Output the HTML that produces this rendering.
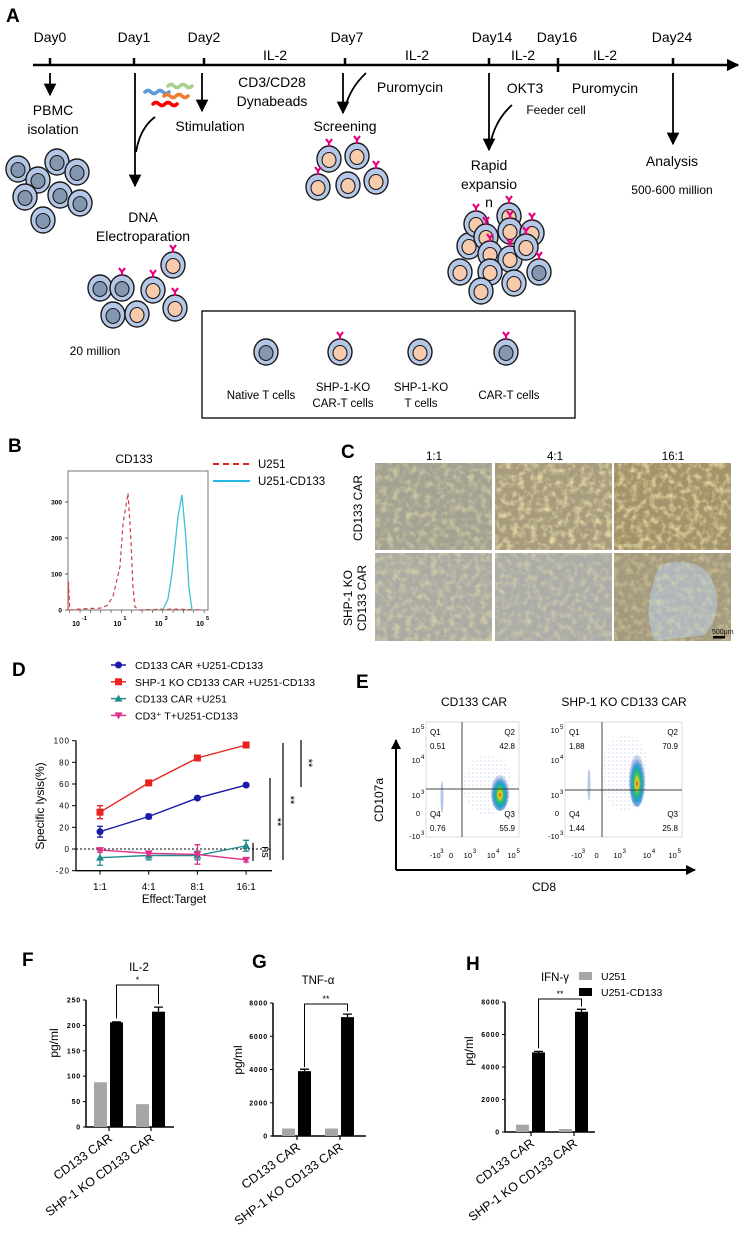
<!DOCTYPE html>
<html><head><meta charset="utf-8">
<style>
html,body{margin:0;padding:0;background:#fff;}
svg{display:block;font-family:"Liberation Sans",Arial,sans-serif;}
</style></head>
<body>
<svg id="fig" width="744" height="1241" viewBox="0 0 744 1241" xmlns="http://www.w3.org/2000/svg">
<defs>
  <marker id="arr" viewBox="0 0 10 10" refX="9" refY="5" markerWidth="7" markerHeight="7" orient="auto"><path d="M0,0 L10,5 L0,10 z" fill="#000"/></marker>
  <marker id="arrS" viewBox="0 0 10 10" refX="9" refY="5" markerWidth="5" markerHeight="5" orient="auto"><path d="M0,0 L10,5 L0,10 z" fill="#000"/></marker>
  <filter id="tex" x="0" y="0" width="100%" height="100%">
    <feTurbulence type="fractalNoise" baseFrequency="0.16" numOctaves="2" seed="3"/>
    <feColorMatrix type="matrix" values="0 0 0 0 0.88  0 0 0 0 0.8  0 0 0 0 0.42  0 0 0 2.2 -0.95"/>
  </filter>
  <filter id="tex2" x="0" y="0" width="100%" height="100%">
    <feTurbulence type="fractalNoise" baseFrequency="0.2" numOctaves="2" seed="7"/>
    <feColorMatrix type="matrix" values="0 0 0 0 0.35  0 0 0 0 0.35  0 0 0 0 0.3  0 0 0 2 -0.9"/>
  </filter>
  <radialGradient id="blob" cx="50%" cy="55%" r="50%">
    <stop offset="0%" stop-color="#e03020"/>
    <stop offset="18%" stop-color="#f0d020"/>
    <stop offset="40%" stop-color="#30c060"/>
    <stop offset="65%" stop-color="#1aa0d0"/>
    <stop offset="100%" stop-color="#2040b0" stop-opacity="0.2"/>
  </radialGradient>
  <pattern id="dots" width="4" height="4" patternUnits="userSpaceOnUse"><circle cx="1" cy="1" r="0.6" fill="#3050b0"/></pattern>
</defs>

<!-- ================= PANEL A ================= -->
<g>
  <text x="6" y="22" font-size="19" font-weight="bold">A</text>
  <line x1="33" y1="65" x2="738" y2="65" stroke="#000" stroke-width="2.5" marker-end="url(#arrS)"/>
  <g font-size="14" text-anchor="middle">
    <text x="50" y="42">Day0</text><text x="134" y="42">Day1</text><text x="204" y="42">Day2</text>
    <text x="347" y="42">Day7</text><text x="492" y="42">Day14</text><text x="557" y="42">Day16</text><text x="672" y="42">Day24</text>
  </g>
  <g stroke="#000" stroke-width="2.5">
    <line x1="50" y1="58" x2="50" y2="65"/><line x1="134" y1="58" x2="134" y2="65"/><line x1="204" y1="58" x2="204" y2="65"/>
    <line x1="345" y1="58" x2="345" y2="65"/><line x1="489" y1="58" x2="489" y2="65"/><line x1="558" y1="58" x2="558" y2="72"/><line x1="673" y1="58" x2="673" y2="65"/>
  </g>
  <g font-size="14" text-anchor="middle">
    <text x="275" y="60">IL-2</text><text x="417" y="60">IL-2</text><text x="523" y="60">IL-2</text><text x="605" y="60">IL-2</text>
  </g>
  <g stroke="#000" stroke-width="1.8" fill="none">
    <line x1="50" y1="73" x2="50" y2="95" marker-end="url(#arr)"/>
    <line x1="135" y1="73" x2="135" y2="186" marker-end="url(#arr)"/>
    <path d="M155,117 Q140,128 136,152"/>
    <line x1="202" y1="73" x2="202" y2="111" marker-end="url(#arr)"/>
    <line x1="343" y1="73" x2="343" y2="113" marker-end="url(#arr)"/>
    <path d="M366,73 Q350,88 345,108"/>
    <line x1="489" y1="73" x2="489" y2="150" marker-end="url(#arr)"/>
    <path d="M512,105 Q495,120 490,145"/>
    <line x1="673" y1="73" x2="673" y2="144" marker-end="url(#arr)"/>
  </g>
  <g stroke-width="3.5" fill="none" stroke-linecap="round">
    <path d="M145,92 q3,-3 6,0 t6,0 t6,0 t6,0" stroke="#5b9bd5"/>
    <path d="M168,86 q3,-3 6,0 t6,0 t6,0 t6,0" stroke="#a9d18e"/>
    <path d="M164,96 q3,-3 6,0 t6,0 t6,0 t6,0" stroke="#ed7d31"/>
    <path d="M153,104 q3,-3 6,0 t6,0 t6,0 t6,0" stroke="#ff0000"/>
  </g>
  <g font-size="14" text-anchor="middle">
    <text x="53" y="115">PBMC</text><text x="53" y="134">isolation</text>
    <text x="210" y="131">Stimulation</text>
    <text x="272" y="87">CD3/CD28</text><text x="272" y="106">Dynabeads</text>
    <text x="410" y="92">Puromycin</text>
    <text x="345" y="131">Screening</text>
    <text x="525" y="93">OKT3</text>
    <text x="605" y="93">Puromycin</text>
    <text x="556" y="114" font-size="12">Feeder cell</text>
    <text x="489" y="170">Rapid</text><text x="489" y="189">expansio</text><text x="489" y="207">n</text>
    <text x="672" y="166">Analysis</text>
    <text x="672" y="194" font-size="12">500-600 million</text>
    <text x="143" y="222">DNA</text><text x="143" y="241">Electroparation</text>
    <text x="95" y="355" font-size="12">20 million</text>
  </g>
  <g id="cells"></g>
  <rect x="202" y="311" width="373" height="107" fill="none" stroke="#000" stroke-width="1.3"/>
  <g font-size="11.5" text-anchor="middle">
    <text x="261" y="399">Native T cells</text>
    <text x="343" y="391">SHP-1-KO</text><text x="343" y="407">CAR-T cells</text>
    <text x="421" y="391">SHP-1-KO</text><text x="421" y="407">T cells</text>
    <text x="509" y="399">CAR-T cells</text>
  </g>
</g>

<!-- ================= PANEL B ================= -->
<g>
  <text x="8" y="452" font-size="19" font-weight="bold">B</text>
  <text x="134" y="463" font-size="12" text-anchor="middle">CD133</text>
  <rect x="68" y="471" width="140" height="139" fill="none" stroke="#555" stroke-width="0.8"/>
  <g id="histB"></g>
  <g>
    <line x1="213" y1="464" x2="250" y2="464" stroke="#e02020" stroke-width="2" stroke-dasharray="6,4"/>
    <text x="258" y="468" font-size="11.5">U251</text>
    <line x1="213" y1="481" x2="250" y2="481" stroke="#28b8e0" stroke-width="2"/>
    <text x="258" y="485" font-size="11.5">U251-CD133</text>
  </g>
</g>

<!-- ================= PANEL C ================= -->
<g>
  <text x="341" y="458" font-size="19" font-weight="bold">C</text>
  <g font-size="11.5" text-anchor="middle">
    <text x="434" y="460">1:1</text><text x="555" y="460">4:1</text><text x="673" y="460">16:1</text>
  </g>
  <text transform="translate(362,508) rotate(-90)" font-size="12" text-anchor="middle">CD133 CAR</text>
  <text transform="translate(352,598) rotate(-90)" font-size="12" text-anchor="middle">SHP-1 KO</text>
  <text transform="translate(366,598) rotate(-90)" font-size="12" text-anchor="middle">CD133 CAR</text>
  <g>
    <rect x="375" y="463" width="117" height="87" fill="#a4a292"/>
    <rect x="375" y="463" width="117" height="87" filter="url(#tex2)" opacity="0.5"/>
    <rect x="375" y="463" width="117" height="87" filter="url(#tex)" opacity="0.6"/>
    <rect x="495" y="463" width="117" height="87" fill="#a89c7c"/>
    <rect x="495" y="463" width="117" height="87" filter="url(#tex2)" opacity="0.4"/>
    <rect x="495" y="463" width="117" height="87" filter="url(#tex)" opacity="0.9"/>
    <rect x="614" y="463" width="117" height="87" fill="#a49268"/>
    <rect x="614" y="463" width="117" height="87" filter="url(#tex2)" opacity="0.4"/>
    <rect x="614" y="463" width="117" height="87" filter="url(#tex)" opacity="0.9"/>
    <rect x="375" y="553" width="117" height="88" fill="#adaca4"/>
    <rect x="375" y="553" width="117" height="88" filter="url(#tex2)" opacity="0.4"/>
    <rect x="375" y="553" width="117" height="88" filter="url(#tex)" opacity="0.6"/>
    <rect x="495" y="553" width="117" height="88" fill="#acaca8"/>
    <rect x="495" y="553" width="117" height="88" filter="url(#tex)" opacity="0.55"/>
    <rect x="614" y="553" width="117" height="88" fill="#a49a7e"/>
    <path d="M660,565 Q700,555 712,580 Q725,610 705,635 L655,641 Q640,610 660,565z" fill="#b3bcc4" opacity="0.85"/>
    <rect x="614" y="553" width="117" height="88" filter="url(#tex)" opacity="0.5"/>
    <text x="712" y="634" font-size="7" fill="#111">500μm</text>
    <rect x="713" y="636" width="12" height="2.5" fill="#000"/>
  </g>
</g>

<!-- ================= PANEL D ================= -->
<g>
  <text x="12" y="676" font-size="19" font-weight="bold">D</text>
  <g id="lineD"></g>
  <text transform="translate(44,806) rotate(-90)" font-size="12" text-anchor="middle">Specific lysis(%)</text>
  <text x="174" y="903" font-size="11.5" text-anchor="middle">Effect:Target</text>
  <g stroke="#000" stroke-width="1.2">
    <line x1="253" y1="843" x2="253" y2="861"/><line x1="270" y1="778" x2="270" y2="860"/>
    <line x1="283" y1="743" x2="283" y2="860"/><line x1="301" y1="740" x2="301" y2="787"/>
  </g>
  <g font-size="11" text-anchor="middle">
    <text transform="translate(262,852) rotate(90)">ns</text>
    <text transform="translate(274,822) rotate(90)">**</text>
    <text transform="translate(287,800) rotate(90)">**</text>
    <text transform="translate(305,763) rotate(90)">**</text>
  </g>
</g>

<!-- ================= PANEL E ================= -->
<g>
  <text x="356" y="688" font-size="19" font-weight="bold">E</text>
  <text x="474" y="706" font-size="12" text-anchor="middle">CD133 CAR</text>
  <text x="624" y="706" font-size="12" text-anchor="middle">SHP-1 KO CD133 CAR</text>
  <line x1="396" y1="870" x2="396" y2="740" stroke="#000" stroke-width="2" marker-end="url(#arrS)"/>
  <line x1="396" y1="870" x2="695" y2="870" stroke="#000" stroke-width="2" marker-end="url(#arrS)"/>
  <text transform="translate(383,800) rotate(-90)" font-size="12" text-anchor="middle">CD107a</text>
  <text x="544" y="891" font-size="12" text-anchor="middle">CD8</text>
  <g id="flowE"></g>
</g>

<!-- ================= PANELS F G H ================= -->
<g>
  <text x="22" y="966" font-size="19" font-weight="bold">F</text>
  <text x="139" y="971" font-size="11.5" text-anchor="middle">IL-2</text>
  <g id="barF"></g>
</g>
<g>
  <text x="252" y="968" font-size="19" font-weight="bold">G</text>
  <text x="318" y="984" font-size="11.5" text-anchor="middle">TNF-α</text>
  <g id="barG"></g>
</g>
<g>
  <text x="466" y="970" font-size="19" font-weight="bold">H</text>
  <text x="555" y="981" font-size="11.5" text-anchor="middle">IFN-γ</text>
  <rect x="579" y="972" width="13" height="8" fill="#a6a6a6"/>
  <text x="601" y="980" font-size="10.5">U251</text>
  <rect x="579" y="988" width="13" height="8" fill="#000"/>
  <text x="601" y="996" font-size="10.5">U251-CD133</text>
  <g id="barH"></g>
</g>
</svg>

<script>
// ---------- Panel B histogram data ----------
const histRedLog = [-1.48,-1.46,-1.4,-1.0,-0.5,0.06,0.4,0.69,1.03,1.18,1.42,1.56,1.66,1.76,2.0,3.0,4.0,5.0];
const histRedCount = [0,78,0,2,4,5,12,37,120,240,325,195,64,8,0,2,2,0];
const histCyanLog = [3.11,3.35,3.55,3.84,4.03,4.22,4.37,4.52];
const histCyanCount = [0,30,103,260,320,200,60,0];
const histYTicks = [0,100,200,300];
const histXTicks = [-1,1,3,5];

// ---------- Panel D line data ----------
const ratioLabels = ['1:1','4:1','8:1','16:1'];
const lysisCarCd133 = [16,30,47,59];
const lysisKoCd133 = [34,61,84,96];
const lysisCarU251 = [-8,-6,-6,3];
const lysisCd3Cd133 = [-1,-4,-5,-10];
const errCarCd133 = [5,2,1.5,1.5];
const errKoCd133 = [6,1.5,2,1.5];
const errCarU251 = [7,4,4,5];
const errCd3Cd133 = [2,2,9,2];
const lysisYTicks = [-20,0,20,40,60,80,100];

// ---------- Panel E flow data ----------
const flowTitles = ['CD133 CAR','SHP-1 KO CD133 CAR'];
const flowQ1 = ['0.51','1.88'];
const flowQ2 = ['42.8','70.9'];
const flowQ3 = ['55.9','25.8'];
const flowQ4 = ['0.76','1.44'];

// ---------- Panels F/G/H bar data ----------
const groupLabels = ['CD133 CAR','SHP-1 KO CD133 CAR'];
const il2U251 = [88,45];
const il2Cd133 = [206,227];
const il2Err = [1,9];
const il2Ticks = [0,50,100,150,200,250];
const tnfU251 = [450,450];
const tnfCd133 = [3900,7150];
const tnfErr = [120,180];
const tnfTicks = [0,2000,4000,6000,8000];
const ifnU251 = [450,180];
const ifnCd133 = [4900,7400];
const ifnErr = [60,150];
const ifnTicks = [0,2000,4000,6000,8000];

const NS='http://www.w3.org/2000/svg';
function mk(tag, attrs, parent){const e=document.createElementNS(NS,tag);for(const k in attrs)e.setAttribute(k,attrs[k]);parent.appendChild(e);return e;}

// ---------- cells (illustration) ----------
const cellsG=document.getElementById('cells');
const cellList=[
 [18,169,'n',0],[38,180,'n',0],[57,162,'n',0],[77,172,'n',0],[25,197,'n',0],[43,220,'n',0],[60,195,'n',0],[80,203,'n',0],
 [100,288,'n',0],[122,288,'n',1],[153,290,'o',1],[173,265,'o',1],[113,315,'n',0],[137,314,'o',0],[175,308,'o',1],
 [329,159,'o',1],[357,156,'o',1],[318,187,'o',1],[348,185,'o',0],[376,181,'o',1],
 [469,246,'o',1],[476,224,'o',1],[509,216,'o',1],[486,237,'o',1],[510,231,'o',1],[532,233,'o',1],[490,254,'o',1],[510,259,'o',1],[526,247,'o',1],
 [460,272,'o',0],[490,272,'o',0],[539,272,'n',1],[514,283,'o',0],[481,291,'o',0],
 [266,352,'n',0],[340,352,'o',1],[420,352,'o',0],[506,352,'n',1]
];
cellList.forEach(c=>{
  const g=mk('g',{},cellsG);
  
  
  mk('ellipse',{cx:c[0],cy:c[1],rx:12,ry:13,fill:'#b4c7e7',stroke:'#1a1a1a','stroke-width':1.4},g);
  mk('ellipse',{cx:c[0],cy:c[1]+1,rx:7,ry:7.5,fill:c[2]==='n'?'#8497b0':'#f8cbad',stroke:'#1a1a1a','stroke-width':1.1},g);
  if(c[3]){
    mk('path',{d:`M${c[0]},${c[1]-12} L${c[0]},${c[1]-16} M${c[0]},${c[1]-16} L${c[0]-3},${c[1]-20} M${c[0]},${c[1]-16} L${c[0]+3},${c[1]-20}`,stroke:'#e6007e','stroke-width':2.2,fill:'none'},g);
  }
});

// ---------- Panel B ----------
(function(){
  const g=document.getElementById('histB');
  const xB=l=>78+(l+1)*20.67, yB=c=>610-c*0.36;
  histYTicks.forEach(t=>{
    const tk=mk('line',{x1:65,y1:yB(t),x2:68,y2:yB(t),stroke:'#333','stroke-width':0.8},g);
    
    
    const lb=mk('text',{x:62,y:yB(t)+2.5,'font-size':6.5,'font-weight':'bold','text-anchor':'end'},g);
    
    
    lb.textContent=t;
  });
  histXTicks.forEach(t=>{
    const lb=mk('text',{x:xB(t)-2,y:626,'font-size':7,'font-weight':'bold','text-anchor':'middle'},g);
    
    
    lb.textContent='10';
    const sp=mk('text',{x:xB(t)+4,y:620,'font-size':5.5,'font-weight':'bold'},g);
    
    
    sp.textContent=t;
  });
  for(let d=-1.4;d<=5.1;d+=0.5){mk('line',{x1:xB(d),y1:610,x2:xB(d),y2:613,stroke:'#333','stroke-width':0.6},g);}
  const red=mk('polyline',{points:histRedLog.map((l,i)=>xB(l)+','+yB(histRedCount[i])).join(' '),fill:'none',stroke:'#d04040','stroke-width':1.2,'stroke-dasharray':'4,3'},g);
  
  
  const cy=mk('polyline',{points:histCyanLog.map((l,i)=>xB(l)+','+yB(histCyanCount[i])).join(' '),fill:'none',stroke:'#40c0d8','stroke-width':1.3},g);
  
  
})();

// ---------- Panel D ----------
(function(){
  const g=document.getElementById('lineD');
  const xD=i=>100+i*48.7, yD=v=>849-v*1.0833;
  const ax=mk('path',{d:`M76,${yD(100)} L76,${yD(-20)} L272,${yD(-20)}`,fill:'none',stroke:'#000','stroke-width':1.3},g);
  
  
  const zl=mk('line',{x1:76,y1:yD(0),x2:272,y2:yD(0),stroke:'#000','stroke-width':0.9,'stroke-dasharray':'2,2'},g);
  
  
  lysisYTicks.forEach(t=>{
    mk('line',{x1:72,y1:yD(t),x2:76,y2:yD(t),stroke:'#000','stroke-width':1},g);
    const lb=mk('text',{x:70,y:yD(t)+3,'font-size':8,'text-anchor':'end','letter-spacing':'1'},g);
    
    
    lb.textContent=t;
  });
  ratioLabels.forEach((r,i)=>{
    mk('line',{x1:xD(i),y1:yD(-20),x2:xD(i),y2:yD(-20)+4,stroke:'#000','stroke-width':1},g);
    const lb=mk('text',{x:xD(i),y:890,'font-size':10,'text-anchor':'middle'},g);
    
    
    lb.textContent=r;
  });
  const series=[
    [lysisCarCd133,errCarCd133,'#1a1aa8','circle','series-car-u251-cd133','CD133 CAR +U251-CD133'],
    [lysisKoCd133,errKoCd133,'#e8221e','square','series-ko-car-u251-cd133','SHP-1 KO CD133 CAR +U251-CD133'],
    [lysisCarU251,errCarU251,'#1f8c8c','tri','series-car-u251','CD133 CAR +U251'],
    [lysisCd3Cd133,errCd3Cd133,'#e0308c','tridown','series-cd3-u251-cd133','CD3⁺ T+U251-CD133']
  ];
  function marker(sh,x,y,col,p){
    if(sh==='circle')return mk('circle',{cx:x,cy:y,r:3.5,fill:col},p);
    if(sh==='square')return mk('rect',{x:x-3.5,y:y-3.5,width:7,height:7,fill:col},p);
    if(sh==='tri')return mk('path',{d:`M${x},${y-4} L${x+4},${y+3} L${x-4},${y+3}z`,fill:col},p);
    return mk('path',{d:`M${x},${y+4} L${x+4},${y-3} L${x-4},${y-3}z`,fill:col},p);
  }
  series.forEach((s,si)=>{
    const sg=mk('g',{},g);
    
    
    mk('polyline',{points:s[0].map((v,i)=>xD(i)+','+yD(v)).join(' '),fill:'none',stroke:s[2],'stroke-width':1.4},sg);
    s[0].forEach((v,i)=>{
      const x=xD(i),e=s[1][i];
      mk('path',{d:`M${x},${yD(v+e)} L${x},${yD(v-e)} M${x-3},${yD(v+e)} L${x+3},${yD(v+e)} M${x-3},${yD(v-e)} L${x+3},${yD(v-e)}`,stroke:s[2],'stroke-width':1.3,fill:'none'},sg);
      const m=marker(s[3],x,yD(v),s[2],sg);
      
      
    });
    const ly=665+si*16.8;
    const lg=mk('g',{},g);
    
    
    mk('line',{x1:111,y1:ly,x2:126,y2:ly,stroke:s[2],'stroke-width':1.5},lg);
    marker(s[3],118.5,ly,s[2],lg);
    const t=mk('text',{x:135,y:ly+4,'font-size':10.5},lg);
    t.textContent=s[5];
  });
})();

// ---------- Panel E ----------
(function(){
  const g=document.getElementById('flowE');
  const plots=[{x0:426,x1:519,vx:462,hy:789,bx:500,by:793,rx:9,ry:18},{x0:565,x1:682,vx:602,hy:790,bx:637,by:781,rx:8,ry:26}];
  plots.forEach((p,pi)=>{
    const pg=mk('g',{},g);
    
    
    mk('rect',{x:p.x0,y:722,width:p.x1-p.x0,height:115,fill:'#fff',stroke:'#ccc','stroke-width':0.7},pg);
    mk('ellipse',{cx:p.bx-12,cy:p.by-8,rx:p.rx+16,ry:p.ry+12,fill:'url(#dots)',opacity:0.35},pg);
    mk('ellipse',{cx:p.x0+(pi?24:16),cy:p.by+4,rx:1.5,ry:16,fill:'#7090d0',opacity:0.5},pg);
    const b=mk('ellipse',{cx:p.bx,cy:p.by,rx:p.rx,ry:p.ry,fill:'url(#blob)'},pg);
    
    
    mk('line',{x1:p.vx,y1:722,x2:p.vx,y2:837,stroke:'#444','stroke-width':1},pg);
    mk('line',{x1:p.x0,y1:p.hy,x2:p.x1,y2:p.hy,stroke:'#444','stroke-width':1},pg);
    const labs=[['Q1',p.x0+4,735,'start'],[flowQ1[pi],p.x0+4,749,'start'],['Q2',p.x1-4,735,'end'],[flowQ2[pi],p.x1-4,749,'end'],
                ['Q4',p.x0+4,817,'start'],[flowQ4[pi],p.x0+4,831,'start'],['Q3',p.x1-4,817,'end'],[flowQ3[pi],p.x1-4,831,'end']];
    labs.forEach(l=>{const t=mk('text',{x:l[1],y:l[2],'font-size':8,'text-anchor':l[3]},pg);
      
      
      t.textContent=l[0];});
    const yt=[['10','5',730],['10','4',760],['10','3',795],['0','',813],['-10','3',836]];
    yt.forEach(a=>{const t=mk('text',{x:p.x0-6,y:a[2]+3,'font-size':7.5,'text-anchor':'end'},pg);
      
      
      t.textContent=a[0];
      if(a[1]){const s=mk('text',{x:p.x0-5,y:a[2]-1,'font-size':6},pg);s.textContent=a[1];}});
    const w=p.x1-p.x0;
    const xt=[['-10','3',0.1],['0','',0.27],['10','3',0.45],['10','4',0.7],['10','5',0.92]];
    xt.forEach(a=>{const x=p.x0+w*a[2];const t=mk('text',{x:x,y:858,'font-size':7.5,'text-anchor':'middle'},pg);
      
      
      t.textContent=a[0];
      if(a[1]){const s=mk('text',{x:x+5,y:853,'font-size':6},pg);s.textContent=a[1];}});
  });
})();

// ---------- Bars F/G/H ----------
function barChart(id,cfg){
  const g=document.getElementById(id);
  const y=v=>cfg.y0-v*(cfg.y0-cfg.yTop)/cfg.max;
  const ax=mk('path',{d:`M${cfg.ax},${cfg.yTop} L${cfg.ax},${cfg.y0} L${cfg.axEnd},${cfg.y0}`,fill:'none',stroke:'#000','stroke-width':1.5},g);
  
  
  cfg.ticks.forEach(t=>{
    mk('line',{x1:cfg.ax-3,y1:y(t),x2:cfg.ax,y2:y(t),stroke:'#000','stroke-width':1},g);
    const lb=mk('text',{x:cfg.ax-5,y:y(t)+2.5,'font-size':7,'font-weight':'bold','text-anchor':'end','letter-spacing':'0.8'},g);
    
    
    lb.textContent=t;
  });
  const yl=mk('text',{transform:`translate(${cfg.ylx},${cfg.yly}) rotate(-90)`,'font-size':12,'text-anchor':'middle'},g);
  
  
  yl.textContent='pg/ml';
  groupLabels.forEach((lab,i)=>{
    const c=cfg.centers[i];
    mk('line',{x1:c,y1:cfg.y0,x2:c,y2:cfg.y0+4,stroke:'#000','stroke-width':1.2},g);
    const gb=mk('rect',{x:c-15,y:y(cfg.a[i]),width:13,height:cfg.y0-y(cfg.a[i]),fill:'#a6a6a6'},g);
    
    
    const bb=mk('rect',{x:c+1,y:y(cfg.b[i]),width:13,height:cfg.y0-y(cfg.b[i]),fill:'#000'},g);
    
    
    const e=cfg.err[i];
    mk('path',{d:`M${c+7.5},${y(cfg.b[i])} L${c+7.5},${y(cfg.b[i]+e)} M${c+3},${y(cfg.b[i]+e)} L${c+12},${y(cfg.b[i]+e)}`,stroke:'#000','stroke-width':1.3},g);
    const t=mk('text',{transform:`translate(${c+4},${cfg.y0+13}) rotate(-36)`,'font-size':12.5,'text-anchor':'end'},g);
    
    
    t.textContent=lab;
  });
  const x1=cfg.centers[0]+7.5,x2=cfg.centers[1]+7.5;
  const br=mk('path',{d:`M${x1},${y(cfg.b[0])-4} L${x1},${cfg.brY} L${x2},${cfg.brY} L${x2},${y(cfg.b[1]+cfg.err[1])-3}`,fill:'none',stroke:'#000','stroke-width':1},g);
  
  
  const st=mk('text',{x:(x1+x2)/2,y:cfg.brY-2,'font-size':9,'text-anchor':'middle'},g);
  
  
  st.textContent=cfg.star;
}
barChart('barF',{ax:86,axEnd:174,y0:1127,yTop:1000,max:250,ticks:il2Ticks,a:il2U251,b:il2Cd133,err:il2Err,centers:[109,151],brY:985,star:'*',ylx:58,yly:1043});
barChart('barG',{ax:273,axEnd:366,y0:1136,yTop:1003,max:8000,ticks:tnfTicks,a:tnfU251,b:tnfCd133,err:tnfErr,centers:[297,340],brY:1004,star:'**',ylx:242,yly:1060});
barChart('barH',{ax:505,axEnd:595,y0:1132,yTop:1002,max:8000,ticks:ifnTicks,a:ifnU251,b:ifnCd133,err:ifnErr,centers:[531,574],brY:999,star:'**',ylx:473,yly:1051});
</script>
</body></html>
